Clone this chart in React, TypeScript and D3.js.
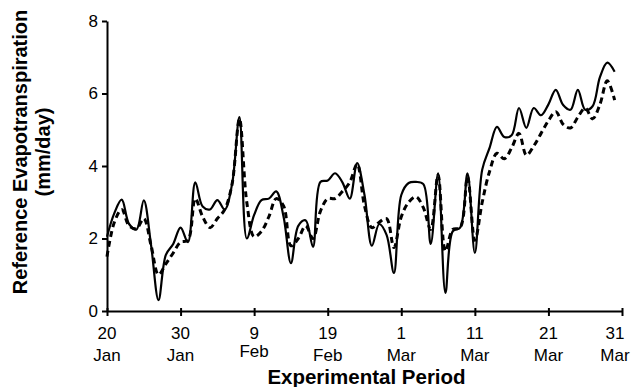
import { useRef, useEffect } from "react";
import * as d3 from "d3";

// daily reference ET, 20 Jan - 30 Mar (mm/day)
const solidSeries = [
  2.05, 2.7, 3.07, 2.4, 2.25, 3.05, 1.8, 0.3, 1.55, 1.85,
  2.3, 1.9, 3.55, 2.88, 2.8, 3.06, 2.8, 3.5, 5.35, 2.0,
  2.65, 3.06, 3.1, 3.3, 2.6, 1.32, 2.35, 2.5, 1.77, 3.56,
  3.6, 3.8, 3.55, 3.1, 4.08, 3.2, 1.8, 2.4, 2.1, 1.05,
  3.2, 3.53, 3.56, 3.5, 1.85, 3.8, 0.5, 2.2, 2.3, 3.8,
  1.6, 3.9, 4.5, 5.08, 4.8, 4.85, 5.6, 5.05, 5.6, 5.4,
  5.7, 6.1, 5.68, 5.55, 6.1, 5.55, 5.65, 6.45, 6.85, 6.6,
];

const dashedSeries = [
  1.5, 2.45, 2.8, 2.35, 2.27, 2.55, 1.8, 1.0, 1.3, 1.6,
  1.9, 1.95, 3.1, 2.6, 2.3, 2.55, 2.8, 3.5, 5.3, 3.0,
  2.05, 2.2, 2.6, 3.1, 2.9, 1.8, 2.0, 2.35, 2.0, 2.75,
  3.1, 3.1, 3.3, 3.55, 4.05, 2.9, 2.3, 2.45, 2.55, 1.75,
  2.6, 3.0, 3.15, 2.85, 2.25, 3.75, 1.65, 2.25, 2.3, 3.7,
  1.95, 3.0, 3.85, 4.35, 4.2, 4.5, 4.9, 4.3, 4.55, 4.9,
  5.25, 5.5, 5.15, 5.05, 5.35, 5.6, 5.3, 5.7, 6.35, 5.82,
];

const startDate = new Date(2003, 0, 20);
const endDate = new Date(2003, 2, 31);
const tickOffsets = [0, 10, 20, 30, 40, 50, 60, 70];
const yTicks = [0, 2, 4, 6, 8];

export default function App() {
  const svgRef = useRef<SVGSVGElement>(null);
  const width = 634;
  const height = 387;

  useEffect(() => {
    const margin = { top: 21, right: 12, bottom: 76, left: 107 };
    const innerWidth = width - margin.left - margin.right;
    const innerHeight = height - margin.top - margin.bottom;

    const svg = d3.select(svgRef.current);
    svg.selectAll("*").remove();

    const x = d3.scaleTime().domain([startDate, endDate]).range([0, innerWidth]);
    const y = d3.scaleLinear().domain([0, 8]).range([innerHeight, 0]);

    const g = svg.append("g").attr("transform", `translate(${margin.left},${margin.top})`);

    const day = (i: number) => d3.timeDay.offset(startDate, i);
    const font = "Arial, 'Liberation Sans', Helvetica, sans-serif";

    // lines
    const line = d3
      .line<number>()
      .x((_, i) => x(day(i)))
      .y((d) => y(d))
      .curve(d3.curveCatmullRom.alpha(0.5));

    g.append("path")
      .datum(solidSeries)
      .attr("fill", "none")
      .attr("stroke", "#000")
      .attr("stroke-width", 2.2)
      .attr("stroke-linejoin", "round")
      .attr("d", line);

    g.append("path")
      .datum(dashedSeries)
      .attr("fill", "none")
      .attr("stroke", "#000")
      .attr("stroke-width", 3)
      .attr("stroke-dasharray", "6,4")
      .attr("d", line);

    // y axis
    const yAxis = g
      .append("g")
      .call(d3.axisLeft(y).tickValues(yTicks).tickSize(5).tickPadding(4).tickSizeOuter(0));
    yAxis.select(".domain").attr("stroke", "#000").attr("stroke-width", 2);
    yAxis.selectAll(".tick line").attr("stroke", "#000").attr("stroke-width", 2);
    yAxis
      .selectAll(".tick text")
      .attr("fill", "#000")
      .attr("font-size", 17)
      .attr("font-family", font);

    // x axis
    const tickDates = tickOffsets.map(day);
    const xAxis = g
      .append("g")
      .attr("transform", `translate(0,${innerHeight})`)
      .call(d3.axisBottom(x).tickValues(tickDates).tickSize(5).tickSizeOuter(0).tickFormat(() => ""));
    xAxis.select(".domain").attr("stroke", "#000").attr("stroke-width", 2);
    xAxis.selectAll(".tick line").attr("stroke", "#000").attr("stroke-width", 2).attr("y1", -3);

    const dayFmt = d3.timeFormat("%-d");
    const monFmt = d3.timeFormat("%b");
    tickDates.forEach((d, i) => {
      // last label is pulled in so it stays on the page
      const cx = Math.min(x(d), width - margin.left - 19);
      const t = g
        .append("text")
        .attr("text-anchor", "middle")
        .attr("font-size", 17)
        .attr("font-family", font)
        .attr("fill", "#000");
      t.append("tspan").attr("x", cx).attr("y", innerHeight + 28).text(dayFmt(d));
      t.append("tspan")
        .attr("x", cx)
        .attr("y", innerHeight + 50 - (i === 2 ? 4 : 0))
        .text(monFmt(d));
    });

    // titles
    svg
      .append("text")
      .attr("x", margin.left + innerWidth / 2 + 2)
      .attr("y", 384)
      .attr("text-anchor", "middle")
      .attr("font-size", 20.5)
      .attr("font-weight", "bold")
      .attr("font-family", font)
      .text("Experimental Period");

    const yTitle = svg
      .append("text")
      .attr("transform", `translate(20,152) rotate(-90)`)
      .attr("text-anchor", "middle")
      .attr("font-size", 20)
      .attr("font-weight", "bold")
      .attr("font-family", font);
    yTitle.append("tspan").attr("x", 0).attr("dy", "0.35em").text("Reference Evapotranspiration");
    yTitle.append("tspan").attr("x", 0).attr("dy", 23).text("(mm/day)");
  }, []);

  return (
    <svg
      ref={svgRef}
      width={width}
      height={height}
      style={{ position: "absolute", left: 0, top: 0, background: "#fff" }}
    ></svg>
  );
}
